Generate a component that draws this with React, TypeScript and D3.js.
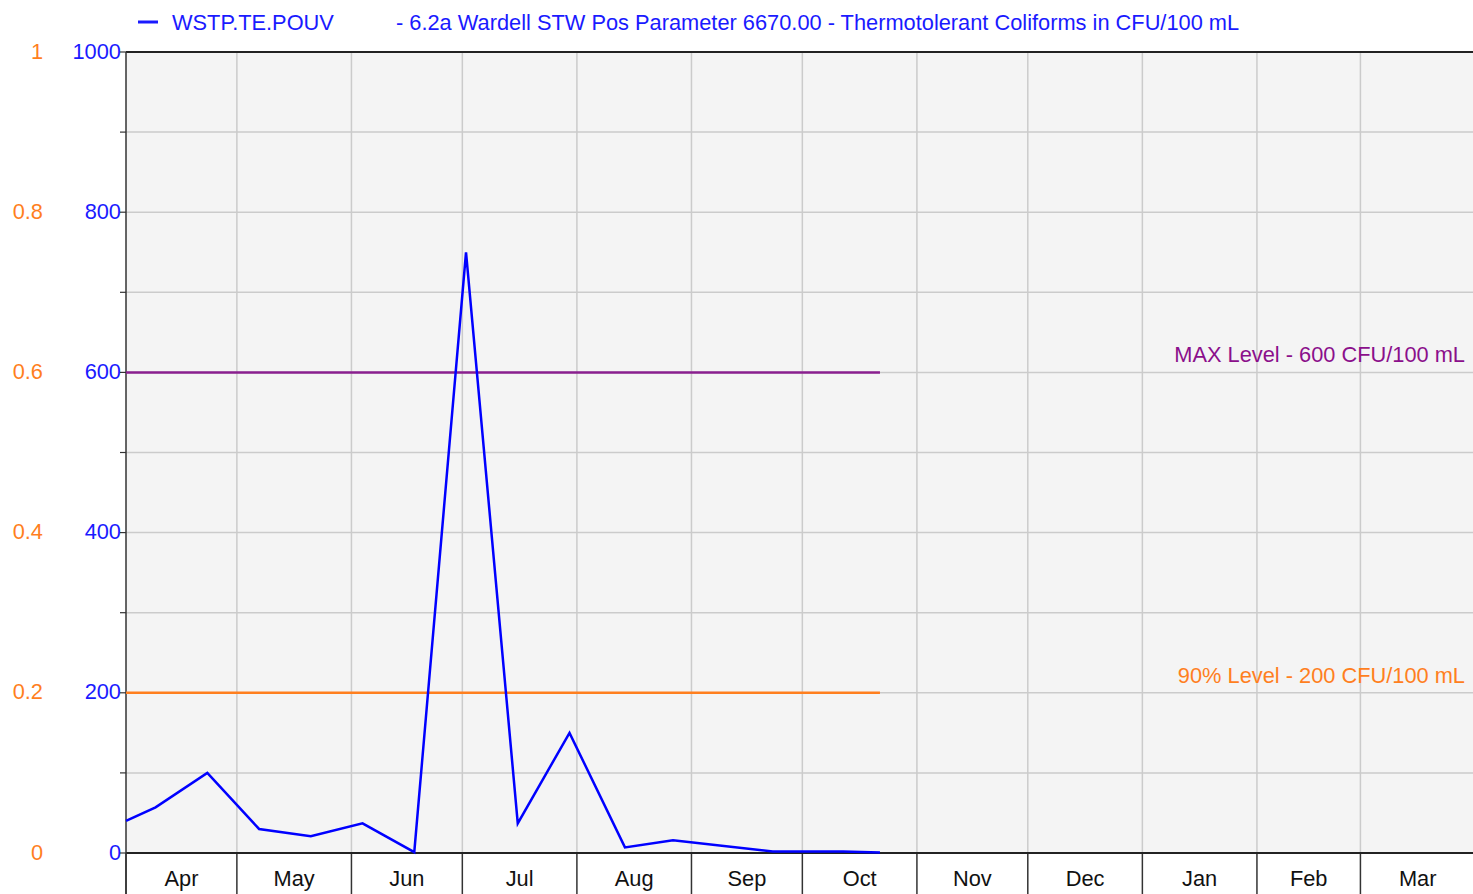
import * as d3 from "d3"

// Thermotolerant coliform samples (CFU/100 mL)
const sampleDates = [
  "2022-04-01", "2022-04-09", "2022-04-23", "2022-05-07", "2022-05-21",
  "2022-06-04", "2022-06-18", "2022-07-02", "2022-07-16", "2022-07-30",
  "2022-08-14", "2022-08-27", "2022-09-23", "2022-10-12", "2022-10-22",
]
const sampleValues = [40, 57, 100, 30, 21, 37, 1, 750, 37, 150, 7, 16, 2, 2, 0.5]

const primaryTicks = [0, 200, 400, 600, 800, 1000]
const minorTicks = [100, 300, 500, 700, 900]
const secondaryTicks = [0, 0.2, 0.4, 0.6, 0.8, 1]

const maxLevel = 600
const ninetyLevel = 200

const seriesName = "WSTP.TE.POUV"
const chartTitle = "- 6.2a Wardell STW Pos Parameter 6670.00 - Thermotolerant Coliforms in CFU/100 mL"

const W = 1473
const H = 894
const FONT = "'Liberation Sans', Arial, sans-serif"
const FS = 21.8

export default function App() {
  const parse = d3.utcParse("%Y-%m-%d")
  const data = sampleDates.map((d, i) => ({ date: parse(d)!, value: sampleValues[i] }))

  const left = 126
  const right = 1475
  const top = 52
  const bottom = 853

  const start = parse("2022-04-01")!
  const end = parse("2023-04-01")!
  const x = d3.scaleUtc().domain([start, end]).range([left, right])
  const y = d3.scaleLinear().domain([0, 1000]).range([bottom, top])
  const y2 = d3.scaleLinear().domain([0, 1]).range([bottom, top])

  const months = d3.utcMonth.range(start, end)
  const line = d3
    .line<{ date: Date; value: number }>()
    .x((d) => x(d.date))
    .y((d) => y(d.value))

  const lastDate = data[data.length - 1].date
  const fmtMonth = d3.utcFormat("%b")

  return (
    <div style={{ position: "absolute", left: 0, top: 0 }}>
      <svg width={W} height={H} style={{ display: "block", fontFamily: FONT }}>
        <rect x={0} y={0} width={W} height={H} fill="#ffffff" />
        <rect x={left} y={top} width={W - left} height={bottom - top} fill="#f4f4f4" />

        {/* horizontal grid */}
        {[...primaryTicks, ...minorTicks]
          .filter((t) => t > 0 && t < 1000)
          .map((t) => (
            <line key={"h" + t} x1={left} x2={W} y1={y(t)} y2={y(t)} stroke="#cbcbcb" strokeWidth={1.5} />
          ))}

        {/* vertical grid */}
        {months.slice(1).map((m) => (
          <line key={"v" + m.toISOString()} x1={x(m)} x2={x(m)} y1={top} y2={bottom} stroke="#cbcbcb" strokeWidth={1.5} />
        ))}

        {/* bottom month ticks */}
        {months.map((m) => (
          <line key={"t" + m.toISOString()} x1={x(m)} x2={x(m)} y1={bottom} y2={H} stroke="#333" strokeWidth={1.5} />
        ))}

        {/* month labels */}
        {months.map((m) => {
          const next = d3.utcMonth.offset(m, 1)
          return (
            <text key={"l" + m.toISOString()} x={(x(m) + x(next)) / 2} y={886} textAnchor="middle" fontSize={FS} fill="#111">
              {fmtMonth(m)}
            </text>
          )
        })}

        {/* axes frame */}
        <line x1={left} x2={W} y1={top} y2={top} stroke="#222" strokeWidth={2} />
        <line x1={left} x2={W} y1={bottom} y2={bottom} stroke="#222" strokeWidth={2} />
        <line x1={left} x2={left} y1={top} y2={H} stroke="#333" strokeWidth={1.5} />

        {/* left ticks */}
        {[...primaryTicks, ...minorTicks].map((t) => (
          <line key={"yt" + t} x1={left - 6} x2={left} y1={y(t)} y2={y(t)} stroke="#333" strokeWidth={1.2} />
        ))}
        {primaryTicks.map((t) => (
          <text key={"yl" + t} x={left - 5} y={y(t)} dy="0.3em" textAnchor="end" fontSize={FS} fill="#1a1aff">
            {t}
          </text>
        ))}
        {secondaryTicks.map((t) => (
          <text key={"y2" + t} x={43} y={y2(t)} dy="0.3em" textAnchor="end" fontSize={FS} fill="#ff7f1e">
            {t}
          </text>
        ))}

        {/* limit lines */}
        <line x1={left} x2={x(lastDate)} y1={y(maxLevel)} y2={y(maxLevel)} stroke="#8a1f8f" strokeWidth={2.5} />
        <line x1={left} x2={x(lastDate)} y1={y(ninetyLevel)} y2={y(ninetyLevel)} stroke="#ff7f1e" strokeWidth={2.5} />
        <text x={1465} y={y(maxLevel) - 10} textAnchor="end" fontSize={FS} fill="#8b0f8b">
          MAX Level - 600 CFU/100 mL
        </text>
        <text x={1465} y={y(ninetyLevel) - 10} textAnchor="end" fontSize={FS} fill="#ff7f1e">
          90% Level - 200 CFU/100 mL
        </text>

        {/* series */}
        <path d={line(data) ?? ""} fill="none" stroke="#0000ff" strokeWidth={2.5} strokeLinejoin="miter" />

        {/* legend */}
        <line x1={138} x2={158} y1={22} y2={22} stroke="#1a1aff" strokeWidth={3} />
        <text x={172} y={30} fontSize={FS} fill="#1a1aff">
          {seriesName}
        </text>
        <text x={396} y={30} fontSize={FS} fill="#1a1aff">
          {chartTitle}
        </text>
      </svg>
    </div>
  )
}
